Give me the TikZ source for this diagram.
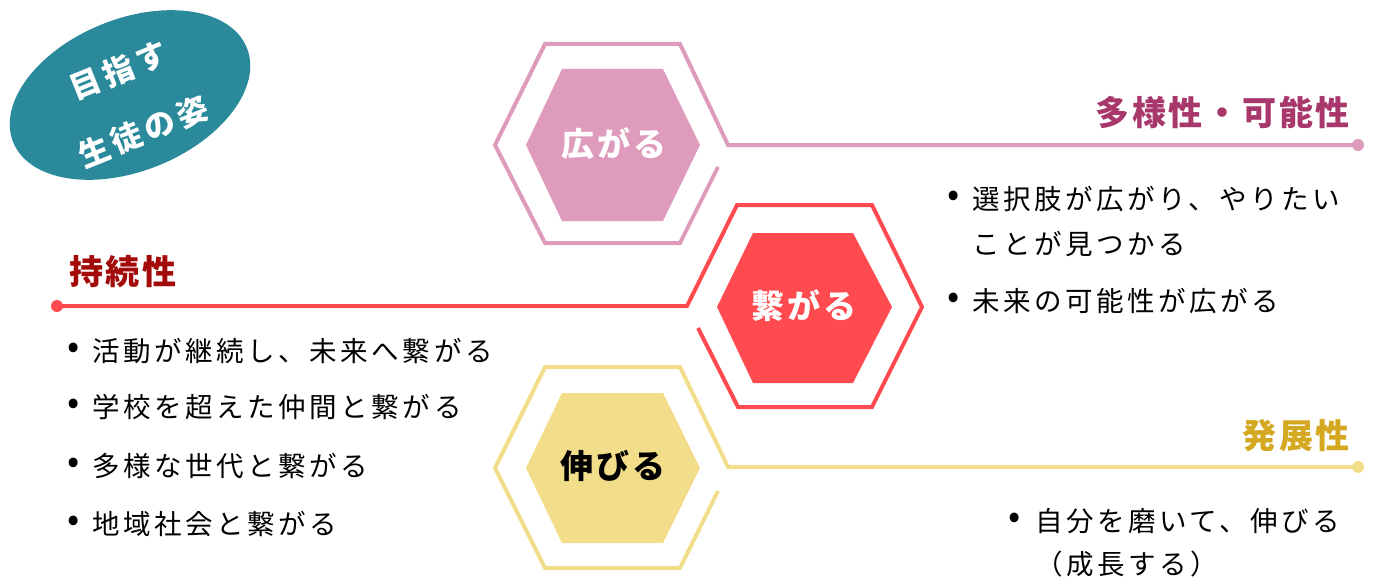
\documentclass[tikz,border=0pt]{standalone}
\usepackage{fontspec}
\newfontfamily\jpbody[LetterSpace=13]{Noto Sans CJK JP}
\newfontfamily\jpbold[LetterSpace=8]{Noto Sans CJK JP}
\newfontfamily\jpbadge[LetterSpace=14]{Noto Sans CJK JP}
\usetikzlibrary{shapes.geometric}
\definecolor{pinkc}{HTML}{DE9BBB}
\definecolor{pinkt}{HTML}{A8386C}
\definecolor{redc}{HTML}{FF4B50}
\definecolor{redt}{HTML}{A30B0B}
\definecolor{yelc}{HTML}{F2DE8A}
\definecolor{yelt}{HTML}{D4A820}
\definecolor{tealc}{HTML}{2A8A9B}
\begin{document}
\begin{tikzpicture}[x=1pt,y=-1pt,
  hexline/.style={line width=4pt, line join=miter},
  bodytxt/.style={font=\jpbody\fontsize{27.5}{32}\selectfont, inner sep=0pt, anchor=west},
  bullettxt/.style={font=\jpbody\fontsize{36}{40}\selectfont, inner sep=0pt},
  titletxt/.style={font=\jpbold\bfseries\fontsize{34}{40}\selectfont, inner sep=0pt},
  hexlabel/.style={font=\jpbold\bfseries\fontsize{33}{38}\selectfont, inner sep=0pt},
  enddot/.style={circle, inner sep=0pt, minimum size=12pt}]
\useasboundingbox (0,0) rectangle (1376,578);

% ellipse badge
\node[ellipse, fill=tealc, minimum width=252pt, minimum height=152pt, rotate=22, inner sep=0pt] (badge) at (130,95) {};
\node[font=\jpbadge\bfseries\fontsize{31}{66}\selectfont, text=white, align=center, rotate=22, inner sep=0pt] (badgetxt) at (131,101) {目指す\\生徒の姿};

% pink hexagon
\coordinate (pinkA) at (718,167);
\coordinate (pinkV) at (728,145);
\node[enddot, fill=pinkc] (pinkdot) at (1358,145) {};
\fill[pinkc] (526,145) -- (562,69) -- (663,69) -- (700,145) -- (663,221) -- (562,221) -- cycle;
\draw[hexline, pinkc] (pinkA) -- (680,243) -- (545,243) -- (495,145) -- (545,44) -- (680,44) -- (pinkV) -- (pinkdot.center);
\node[hexlabel, text=white] (hexpink) at (614,144) {広がる};

% red hexagon
\coordinate (redA) at (698,328);
\coordinate (redV) at (687,306);
\node[enddot, fill=redc] (reddot) at (57,306) {};
\fill[redc] (717,307) -- (753,233) -- (853,233) -- (892,307) -- (853,383) -- (753,383) -- cycle;
\draw[hexline, redc] (redA) -- (738,407) -- (872,407) -- (922,307) -- (872,205) -- (737,205) -- (redV) -- (reddot.center);
\node[hexlabel, text=white] (hexred) at (804,306) {繋がる};

% yellow hexagon
\coordinate (yelA) at (718,491);
\coordinate (yelV) at (728,467);
\node[enddot, fill=yelc] (yeldot) at (1358,467) {};
\fill[yelc] (526,468) -- (562,393) -- (663,393) -- (700,468) -- (663,543) -- (562,543) -- cycle;
\draw[hexline, yelc] (yelA) -- (680,568) -- (545,568) -- (495,468) -- (545,367) -- (680,367) -- (yelV) -- (yeldot.center);
\node[hexlabel, text=black] (hexyel) at (613,466) {伸びる};

% titles
\node[titletxt, text=pinkt, anchor=east] (tpink) at (1350,112) {多様性・可能性};
\node[titletxt, text=redt, anchor=west] (tred) at (69,272) {持続性};
\node[titletxt, text=yelt, anchor=east] (tyel) at (1350,436) {発展性};

% right-top bullets
\node[bullettxt] (bp1) at (954,199) {•};
\node[bodytxt] (p1) at (972,199) {選択肢が広がり、やりたい};
\node[bodytxt] (p1b) at (972,244) {ことが見つかる};
\node[bullettxt] (bp2) at (954,301) {•};
\node[bodytxt] (p2) at (972,301) {未来の可能性が広がる};

% left bullets
\node[bullettxt] (br1) at (74,351) {•};
\node[bodytxt] (r1) at (92,351) {活動が継続し、未来へ繋がる};
\node[bullettxt] (br2) at (74,407) {•};
\node[bodytxt] (r2) at (92,407) {学校を超えた仲間と繋がる};
\node[bullettxt] (br3) at (74,466) {•};
\node[bodytxt] (r3) at (92,466) {多様な世代と繋がる};
\node[bullettxt] (br4) at (74,524) {•};
\node[bodytxt] (r4) at (92,524) {地域社会と繋がる};

% bottom-right bullets
\node[bullettxt] (by1) at (1015,521) {•};
\node[bodytxt] (y1) at (1035,521) {自分を磨いて、伸びる};
\node[bodytxt] (y1b) at (1035,564) {（成長する）};
\end{tikzpicture}
\end{document}
